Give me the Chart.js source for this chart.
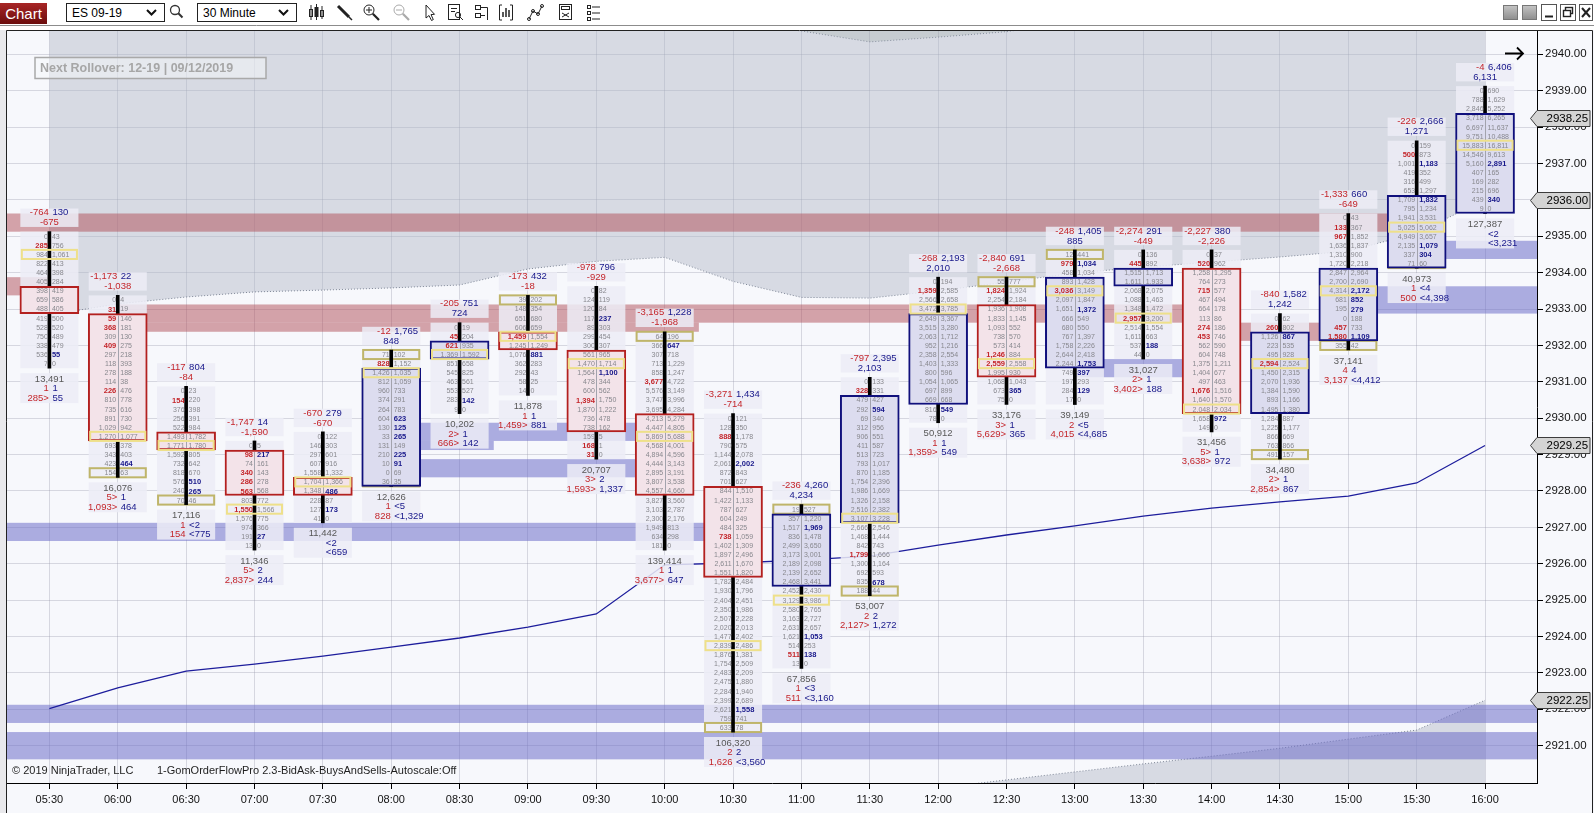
<!DOCTYPE html>
<html lang="en">
<head>
<meta charset="utf-8">
<title>ES 09-19 - 30 Minute</title>
<script src="https://cdn.jsdelivr.net/npm/chart.js@4.4.1/dist/chart.umd.min.js"></script>
<style>
  html, body { margin: 0; padding: 0; background: #fff; overflow: hidden; }
  body { position: relative; width: 1594px; height: 813px; font-family: "Liberation Sans", Arial, sans-serif; }
  #fp { position: absolute; left: 0; top: 0; }
  #toolbar { position: absolute; left: 0; top: 0; width: 1594px; height: 30px; background: #fff; z-index: 2; }
</style>
</head>
<body>
<div id="toolbar">
<svg width="1594" height="30" viewBox="0 0 1594 30" font-family="Liberation Sans, Arial, sans-serif">
  <defs>
    <linearGradient id="gRed" x1="0" y1="0" x2="0" y2="1"><stop offset="0" stop-color="#a82626"/><stop offset="1" stop-color="#6b0d0d"/></linearGradient>
    <linearGradient id="gGrey" x1="0" y1="0" x2="0" y2="1"><stop offset="0" stop-color="#c4c4c4"/><stop offset="1" stop-color="#8e8e8e"/></linearGradient>
  </defs>
  <rect x="0" y="3" width="47" height="21" fill="url(#gRed)"/>
  <text x="23.5" y="19" text-anchor="middle" font-size="15" fill="#fff">Chart</text>
  <rect x="66.5" y="3.5" width="98" height="18" fill="#fff" stroke="#222"/>
  <text x="72" y="17" font-size="12" fill="#000">ES 09-19</text>
  <polyline points="147,10 151.5,14.5 156,10" fill="none" stroke="#111" stroke-width="2"/>
  <circle cx="175" cy="10" r="4.5" fill="none" stroke="#333" stroke-width="1.3"/>
  <line x1="178.3" y1="13.3" x2="182.5" y2="17.5" stroke="#333" stroke-width="2"/>
  <rect x="197.5" y="3.5" width="99" height="18" fill="#fff" stroke="#222"/>
  <text x="203" y="17" font-size="12" fill="#000">30 Minute</text>
  <polyline points="279,10 283.5,14.5 288,10" fill="none" stroke="#111" stroke-width="2"/>
  <g stroke="#222" fill="none" stroke-width="1">
    <line x1="311" y1="5" x2="311" y2="20"/><rect x="309.5" y="9.5" width="3" height="7"/>
    <line x1="316.5" y1="4" x2="316.5" y2="20"/><rect x="315" y="7.5" width="3" height="9" fill="#222"/>
    <line x1="322" y1="6" x2="322" y2="19"/><rect x="320.5" y="10.5" width="3" height="6"/>
    <line x1="338" y1="6" x2="349" y2="17" stroke-width="3"/><line x1="349" y1="17" x2="352" y2="20" stroke-width="1.5"/>
    <circle cx="369" cy="10" r="5"/><line x1="366" y1="10" x2="372" y2="10"/><line x1="369" y1="7" x2="369" y2="13"/>
    <line x1="372.8" y1="13.8" x2="379" y2="20" stroke-width="2.2"/>
    <g stroke="#aaa"><circle cx="399" cy="10" r="5"/><line x1="396" y1="10" x2="402" y2="10"/><line x1="402.8" y1="13.8" x2="409" y2="20" stroke-width="2.2"/></g>
    <polygon points="426,5 426,18 429,15.5 431.5,20.5 433.3,19.6 431,14.6 434.5,14.3" fill="#fff"/>
    <rect x="448.5" y="4.5" width="11" height="15"/><line x1="451" y1="8.5" x2="457" y2="8.5"/><line x1="451" y1="11.5" x2="455" y2="11.5"/>
    <circle cx="458" cy="15" r="2.6"/><line x1="460" y1="17" x2="463" y2="20"/>
    <rect x="475.5" y="5.5" width="5" height="4"/><rect x="475.5" y="13.5" width="5" height="4"/><polyline points="481,7.5 487.5,7.5 487.5,20"/><line x1="481" y1="15.5" x2="485" y2="15.5"/>
    <polyline points="502,5 499.5,5 499.5,20 502,20"/><polyline points="510,5 512.5,5 512.5,20 510,20"/>
    <line x1="503" y1="17" x2="503" y2="12" stroke-width="1.5"/><line x1="506" y1="17" x2="506" y2="8" stroke-width="1.5"/><line x1="509" y1="17" x2="509" y2="10" stroke-width="1.5"/>
    <polyline points="529,19 533,11 538,14 542,6"/><circle cx="529" cy="19" r="1.5"/><circle cx="533" cy="11" r="1.5"/><circle cx="538" cy="14" r="1.5"/><circle cx="542" cy="6" r="1.5"/>
    <rect x="559.5" y="4.5" width="12" height="15"/><rect x="561.5" y="6.5" width="8" height="3"/><line x1="562" y1="13" x2="569" y2="17"/><line x1="569" y1="13" x2="562" y2="17"/>
    <rect x="587.5" y="5.5" width="3" height="3"/><rect x="587.5" y="11.5" width="3" height="3"/><rect x="587.5" y="17.5" width="3" height="3"/>
    <line x1="592" y1="7" x2="600" y2="7"/><line x1="592" y1="13" x2="600" y2="13"/><line x1="592" y1="19" x2="600" y2="19"/>
  </g>
  <rect x="1503.5" y="5.5" width="14" height="14" fill="url(#gGrey)" stroke="#777"/>
  <rect x="1522.5" y="5.5" width="14" height="14" fill="url(#gGrey)" stroke="#777"/>
  <rect x="1541.5" y="4.5" width="15" height="16" fill="#fff" stroke="#555"/>
  <line x1="1545" y1="16.5" x2="1553" y2="16.5" stroke="#222" stroke-width="2"/>
  <rect x="1560.5" y="4.5" width="15" height="16" fill="#fff" stroke="#555"/>
  <rect x="1565.5" y="7.5" width="7" height="6" fill="#fff" stroke="#222" stroke-width="1.4"/>
  <rect x="1563.5" y="10.5" width="7" height="6" fill="#fff" stroke="#222" stroke-width="1.4"/>
  <rect x="1579.5" y="4.5" width="13" height="16" fill="#fff" stroke="#555"/>
  <line x1="1582" y1="8" x2="1590" y2="17" stroke="#222" stroke-width="2"/>
  <line x1="1590" y1="8" x2="1582" y2="17" stroke="#222" stroke-width="2"/>
  <line x1="0" y1="25.5" x2="1594" y2="25.5" stroke="#8c8c8c"/>
</svg>
</div>
<canvas id="fp" width="1594" height="813"></canvas>
<script>
// ES 09-19, 30 minute bars, bid x ask footprint per price level (top row = bar high)

const times = ['05:30','06:00','06:30','07:00','07:30','08:00','08:30','09:00','09:30','10:00','10:30',
               '11:00','11:30','12:00','12:30','13:00','13:30','14:00','14:30','15:00','15:30','16:00']

const opens  = [2933.5, 2932.75, 2929.5, 2929.0, 2928.25, 2928.25, 2931.75, 2932.25, 2931.75, 2930.0, 2928.0,
                2925.5, 2927.25, 2930.5, 2933.0, 2931.5, 2933.75, 2934.0, 2930.25, 2932.25, 2934.25, 2935.75]
const closes = [2933.0, 2929.5, 2929.25, 2928.0, 2928.0, 2931.25, 2932.0, 2932.0, 2929.75, 2928.0, 2925.75,
                2927.25, 2930.5, 2932.75, 2931.25, 2933.75, 2934.0, 2930.25, 2932.25, 2934.0, 2936.0, 2938.25]
const highs  = [2935.0, 2933.25, 2930.75, 2929.25, 2929.5, 2931.75, 2932.5, 2933.25, 2933.5, 2932.25, 2930.0,
                2927.5, 2931.0, 2933.75, 2933.75, 2934.5, 2934.5, 2934.5, 2932.75, 2935.5, 2937.5, 2939.0]
const lows   = [2931.5, 2928.5, 2927.75, 2926.5, 2927.25, 2928.25, 2930.25, 2930.75, 2929.0, 2926.5, 2921.5,
                2923.25, 2925.25, 2930.0, 2930.5, 2930.5, 2931.75, 2929.75, 2929.0, 2932.0, 2934.25, 2935.75]

// [bid, ask] for every tick, from high down to low
const footprint = [
  [[0,43],[285,756],[984,1061],[822,413],[464,398],[405,284],[398,419],[659,586],[488,405],[419,500],[528,520],[750,489],[338,479],[536,55],[7,0]],
  [[0,4],[31,19],[59,146],[368,181],[309,130],[409,275],[297,218],[118,393],[278,188],[114,38],[226,476],[810,778],[735,616],[891,730],[1029,942],[1270,1077],[693,378],[343,403],[423,464],[154,63]],
  [[0,23],[154,220],[376,398],[256,391],[522,984],[1493,1782],[1771,1780],[1592,805],[732,642],[818,670],[576,510],[240,265],[70,46]],
  [[0,5],[98,217],[74,161],[340,143],[286,278],[563,568],[803,772],[1550,1566],[1576,775],[974,366],[191,27],[13,0]],
  [[0,122],[146,303],[297,601],[607,916],[1558,1332],[1704,1366],[1348,486],[228,87],[127,173],[41,0]],
  [[71,102],[828,1152],[1426,1035],[812,1059],[960,733],[374,291],[264,783],[604,623],[130,125],[33,265],[131,149],[210,225],[10,91],[0,69],[36,35]],
  [[0,19],[45,204],[621,935],[1369,1592],[851,658],[545,825],[463,561],[553,527],[283,142],[9,0]],
  [[39,202],[148,354],[651,680],[606,659],[1459,1554],[1245,1249],[1076,881],[362,283],[292,43],[58,25],[14,0]],
  [[0,82],[124,119],[120,84],[117,237],[89,303],[299,454],[300,307],[561,965],[1470,1714],[1564,1100],[478,344],[600,562],[1394,1750],[1870,1222],[736,478],[738,162],[159,5],[168,1],[31,0]],
  [[64,196],[366,647],[307,718],[713,1229],[858,1247],[3677,4722],[5576,3149],[3747,3996],[3695,4284],[4213,5279],[4447,4805],[5869,5688],[4568,4001],[4894,4596],[4444,3143],[2895,3191],[3807,3538],[4557,4660],[3827,3560],[3103,2787],[2300,2176],[1949,813],[634,298],[181,0]],
  [[0,121],[128,350],[888,1178],[790,575],[1144,2078],[2061,2002],[872,843],[701,627],[844,1510],[1422,1133],[787,627],[604,249],[484,325],[738,1059],[1402,1309],[1897,2496],[2611,1670],[1551,1820],[1782,2484],[1930,1796],[2404,2451],[2350,1986],[2507,2228],[2020,2013],[1477,2402],[2839,2486],[1876,1381],[1754,2509],[2483,2209],[2475,1880],[2284,1940],[2399,2689],[2621,1558],[759,741],[633,78]],
  [[19,527],[357,1220],[1517,1969],[836,1478],[2499,3650],[3173,3001],[2189,2098],[2139,2652],[2468,3441],[2452,2430],[3129,3986],[2580,2765],[3163,2727],[2631,2657],[1621,1053],[514,253],[511,138],[13,0]],
  [[0,133],[328,331],[479,427],[292,594],[69,340],[312,956],[906,551],[411,587],[513,723],[793,1017],[870,1185],[1754,2396],[1986,1669],[1326,2158],[2516,2382],[3107,3228],[2666,2546],[1468,1444],[842,743],[1799,1666],[1300,1164],[692,593],[835,678],[188,44]],
  [[0,194],[1359,2585],[2566,2658],[3472,3785],[2649,3367],[3515,3280],[2063,1712],[952,1216],[2358,2554],[1403,1333],[800,596],[1054,1065],[697,899],[669,668],[816,549],[78,0]],
  [[55,777],[1824,1924],[2254,2184],[1936,1908],[1833,1145],[1093,552],[738,570],[573,414],[1246,884],[2559,2558],[1995,930],[1068,1043],[673,365],[75,0]],
  [[12,441],[979,1034],[458,1034],[893,1428],[3036,3149],[2097,1847],[1651,1372],[666,549],[680,550],[767,1397],[1758,2226],[2644,2418],[2244,1753],[749,397],[197,293],[284,129],[17,0]],
  [[0,136],[445,892],[1515,1713],[1611,1933],[2068,2075],[1088,1463],[1348,1472],[2957,3200],[2514,1554],[1611,663],[537,188],[44,0]],
  [[0,37],[520,962],[1258,1295],[764,273],[715,577],[467,494],[664,178],[113,86],[274,186],[453,746],[562,590],[604,748],[1375,1211],[1404,677],[497,463],[1676,1516],[1640,1570],[2048,2034],[1658,972],[149,0]],
  [[0,62],[260,802],[1126,867],[223,535],[495,928],[2594,2524],[1450,2315],[2070,1936],[1384,1590],[893,1166],[1495,1380],[1284,887],[1225,1177],[866,669],[763,866],[491,157]],
  [[0,43],[133,367],[967,1852],[1636,1837],[1310,900],[1720,2218],[2847,2964],[2700,2690],[4314,2172],[681,852],[195,279],[0,188],[457,733],[1580,1109],[355,42]],
  [[0,159],[500,873],[1001,1183],[419,352],[316,499],[653,1297],[1709,1832],[795,1234],[1941,3531],[5025,5062],[4949,3657],[2135,1079],[337,304],[71,60]],
  [[0,690],[788,1629],[2846,5252],[3718,6265],[6697,11637],[9751,10488],[15883,16811],[14546,9613],[5160,2891],[407,165],[169,282],[215,696],[439,340],[9,0]]
]

const deltaMin = [-764,-1173,-117,-1747,-670,-12,-205,-173,-978,-3165,-3271,-236,-797,-268,-2840,-248,-2274,-2227,-840,-1333,-226,-4]
const deltaMax = [130,22,804,14,279,1765,751,432,796,1228,1434,4260,2395,2193,691,1405,291,380,1582,660,2666,6406]
const deltaNet = [-675,-1038,-84,-1590,-670,848,724,-18,-929,-1968,-714,4234,2103,2010,-2668,885,-449,-2226,1242,-649,1271,6131]
const volumes  = [13491,16076,17116,11346,11442,12626,10202,11878,20707,139414,106320,67856,53007,50912,33176,39149,31027,31456,34480,37141,40973,127387]

// session VWAP and its deviation bands
const vwap           = [2922.02,2922.59,2923.05,2923.24,2923.46,2923.71,2923.96,2924.26,2924.62,2925.97,2926.02,
                        2926.10,2926.21,2926.51,2926.79,2927.04,2927.31,2927.53,2927.70,2927.86,2928.22,2929.25]
const bandUpper      = [2932.84,2933.14,2933.33,2933.47,2933.52,2933.58,2933.66,2934.10,2934.31,2934.42,2933.76,
                        2933.32,2933.30,2933.50,2933.74,2933.99,2934.15,2934.29,2934.43,2934.59,2935.09,2936.00]
const bandUpperOuter = [2941.6,2941.5,2941.5,2941.4,2941.4,2941.3,2941.3,2941.2,2941.1,2941.0,2940.85,
                        2940.64,2940.34,2940.47,2940.62,2940.9,2941.1,2941.2,2941.3,2941.4,2941.6,2942.0]
const bandLower      = [2917.6,2917.8,2918.0,2918.2,2918.4,2918.6,2918.8,2919.0,2919.2,2919.3,2919.45,
                        2919.6,2919.7,2919.84,2920.06,2920.28,2920.5,2920.71,2920.93,2921.18,2921.43,2922.25]

// supply / demand zones: bar where they start and end, price range
const zoneFrom = [-1, -1, 1, 1, 17, 5, 5, 5, -1, -1, -1, 15, 19, 20]
const zoneTo   = [20, 0, 17, 9.5, 19, 9, 9, 6.5, 10, 22, 22, 17, 22, 22]
const zoneHigh = [2935.625,2933.875,2933.125,2932.625,2932.625,2929.875,2928.875,2929.375,2927.125,2922.125,2921.375,2931.625,2933.625,2934.875]
const zoneLow  = [2935.125,2933.375,2932.625,2932.375,2932.125,2929.375,2928.375,2929.125,2926.625,2921.625,2920.625,2931.125,2932.875,2934.375]
const zoneSide = ['sell','sell','sell','sell','sell','buy','buy','buy','buy','buy','buy','buy','buy','buy']

const priceTicks = [2921,2922,2923,2924,2925,2926,2927,2928,2929,2930,2931,2932,2933,2934,2935,2936,2937,2938,2939,2940]

const TICK = 0.25
const FONT = '"Liberation Sans", Arial, sans-serif'
const RED = '#c4262b', BLUE = '#17178a', CELLGREY = '#88888e', VOLGREY = '#585858'
const COLBG = 'rgba(236,236,246,0.86)'

const fmt = v => v.toLocaleString('en-US')
const signColor = v => v < 0 ? RED : BLUE

// imbalances (diagonal 2:1), POC and unfinished auctions per bar
const stats = footprint.map(rows => {
  const n = rows.length
  let poc = 0, pocVol = -1, rc = 0, bc = 0, rs = 0, bs = 0
  const bidHot = [], askHot = []
  rows.forEach(([b, a], j) => {
    if (b + a > pocVol) { pocVol = b + a; poc = j }
    const hb = j > 0 && b > 0 && b >= 2 * rows[j - 1][1]
    const ha = j < n - 1 && a > 0 && a >= 2 * rows[j + 1][0]
    bidHot.push(hb); askHot.push(ha)
    if (hb) { rc++; rs += b }
    if (ha) { bc++; bs += a }
  })
  return { poc, bidHot, askHot, rc, bc, rs, bs, openTop: rows[0][0] > 0, openBottom: rows[n - 1][1] > 0 }
})

function cmpParts(r, b, f) {
  if (r === 0 && b === 0) return ['', '']
  if (r > b) return [f(r) + '>', b ? f(b) : '']
  if (r < b) return [r ? f(r) : '', '<' + f(b)]
  return [f(r), f(b)]
}

const colWidth = x => (x.getPixelForValue(1) - x.getPixelForValue(0)) * 0.85
const rowHeight = y => y.getPixelForValue(2930) - y.getPixelForValue(2930 + TICK)

function drawZones(chart) {
  const { ctx, chartArea: a, scales: { x, y } } = chart
  ctx.save()
  zoneHigh.forEach((hi, k) => {
    const x0 = Math.max(a.left, x.getPixelForValue(zoneFrom[k]))
    const x1 = Math.min(a.right, x.getPixelForValue(zoneTo[k]))
    const y0 = y.getPixelForValue(hi), y1 = y.getPixelForValue(zoneLow[k])
    ctx.fillStyle = zoneSide[k] === 'sell' ? 'rgba(175,75,85,0.5)' : 'rgba(110,110,200,0.55)'
    ctx.fillRect(x0, y0, x1 - x0, y1 - y0)
  })
  ctx.restore()
}

function drawColumns(chart) {
  const { ctx, scales: { x, y } } = chart
  const w = colWidth(x), rh = rowHeight(y)
  ctx.save()
  highs.forEach((hi, i) => {
    const cx = x.getPixelForValue(i)
    const yHi = y.getPixelForValue(hi), yLo = y.getPixelForValue(lows[i])
    ctx.fillStyle = COLBG
    ctx.fillRect(cx - w / 2, yHi - rh / 2, w, yLo - yHi + rh)
    ctx.fillRect(cx - w / 2, yHi - 27.7, w, 18.4)
    ctx.fillRect(cx - w / 2, yLo + 9.5, w, 30)
    ctx.strokeStyle = '#bfb56a'
    ctx.lineWidth = 2
    if (stats[i].openTop) ctx.strokeRect(cx - w / 2 + 1, yHi - rh / 2, w - 2, rh)
    if (stats[i].openBottom) ctx.strokeRect(cx - w / 2 + 1, yLo - rh / 2, w - 2, rh)
  })
  ctx.restore()
}

function pair(ctx, left, right, cx, yy, lc, rc) {
  ctx.textAlign = 'right'; ctx.fillStyle = lc; ctx.fillText(left, cx - 0.5, yy)
  ctx.textAlign = 'left'; ctx.fillStyle = rc; ctx.fillText(right, cx + 3, yy)
}

function drawCells(chart) {
  const { ctx, scales: { x, y } } = chart
  const w = colWidth(x), rh = rowHeight(y)
  ctx.save()
  ctx.textBaseline = 'middle'
  footprint.forEach((rows, i) => {
    const cx = x.getPixelForValue(i)
    const st = stats[i]
    const bTop = y.getPixelForValue(Math.max(opens[i], closes[i])) - rh / 2
    const bBot = y.getPixelForValue(Math.min(opens[i], closes[i])) + rh / 2
    ctx.strokeStyle = '#a3a3ad'; ctx.lineWidth = 1
    ctx.beginPath(); ctx.moveTo(Math.round(cx) + 0.5, bTop + 2); ctx.lineTo(Math.round(cx) + 0.5, bBot - 2); ctx.stroke()

    const yp = y.getPixelForValue(highs[i] - st.poc * TICK)
    ctx.strokeStyle = '#eee08a'; ctx.lineWidth = 2
    ctx.strokeRect(cx - w / 2 + 1.5, yp - rh / 2, w - 3, rh)

    rows.forEach(([b, a], j) => {
      const yy = y.getPixelForValue(highs[i] - j * TICK) + 0.5
      ctx.font = st.bidHot[j] ? `bold 7.5px ${FONT}` : `7px ${FONT}`
      ctx.fillStyle = st.bidHot[j] ? RED : CELLGREY
      ctx.textAlign = 'right'
      ctx.fillText(fmt(b), cx - 1.5, yy)
      ctx.font = st.askHot[j] ? `bold 7.5px ${FONT}` : `7px ${FONT}`
      ctx.fillStyle = st.askHot[j] ? BLUE : CELLGREY
      ctx.textAlign = 'left'
      ctx.fillText(fmt(a), cx + 2.5, yy)
    })

    const yHi = y.getPixelForValue(highs[i]), yLo = y.getPixelForValue(lows[i])
    ctx.font = `9.5px ${FONT}`
    pair(ctx, fmt(deltaMin[i]), fmt(deltaMax[i]), cx, yHi - 23.5, signColor(deltaMin[i]), signColor(deltaMax[i]))
    ctx.textAlign = 'center'; ctx.fillStyle = signColor(deltaNet[i])
    ctx.fillText(fmt(deltaNet[i]), cx, yHi - 13.5)
    ctx.fillStyle = VOLGREY
    ctx.fillText(fmt(volumes[i]), cx, yLo + 15.5)
    const [c1, c2] = cmpParts(st.rc, st.bc, String)
    pair(ctx, c1, c2, cx, yLo + 25, RED, BLUE)
    const [s1, s2] = cmpParts(st.rs, st.bs, fmt)
    pair(ctx, s1, s2, cx, yLo + 34.5, RED, BLUE)
  })
  ctx.restore()
}

function drawNotes(chart) {
  const { ctx, chartArea: a } = chart
  ctx.save()
  ctx.fillStyle = 'rgba(246,247,250,0.5)'
  ctx.strokeStyle = '#a9a9a9'; ctx.lineWidth = 1.5
  ctx.fillRect(a.left + 28, a.top + 26.5, 231, 21)
  ctx.strokeRect(a.left + 28, a.top + 26.5, 231, 21)
  ctx.font = `bold 12.5px ${FONT}`
  ctx.fillStyle = '#a6a6a6'; ctx.textBaseline = 'middle'; ctx.textAlign = 'left'
  ctx.fillText('Next Rollover: 12-19 | 09/12/2019', a.left + 33, a.top + 37.5)
  ctx.font = `11px ${FONT}`
  ctx.fillStyle = '#1e1e1e'
  ctx.fillText('\u00a9 2019 NinjaTrader, LLC', a.left + 5, a.bottom - 12.3)
  ctx.fillText('1-GomOrderFlowPro 2.3-BidAsk-BuysAndSells-Autoscale:Off', a.left + 150, a.bottom - 12.3)
  // scroll-to-end arrow
  const ay = a.top + 22.5
  ctx.strokeStyle = '#000'; ctx.lineWidth = 1.8
  ctx.beginPath()
  ctx.moveTo(a.right - 32, ay); ctx.lineTo(a.right - 14, ay)
  ctx.moveTo(a.right - 20, ay - 6); ctx.lineTo(a.right - 14, ay); ctx.lineTo(a.right - 20, ay + 6)
  ctx.stroke()
  ctx.restore()
}

function drawMarkers(chart) {
  const { ctx, chartArea: a, scales: { y } } = chart
  const vals = [closes[closes.length - 1], bandUpper[bandUpper.length - 1], vwap[vwap.length - 1], bandLower[bandLower.length - 1]]
  ctx.save()
  ctx.font = `11.5px ${FONT}`; ctx.textBaseline = 'middle'; ctx.textAlign = 'left'
  vals.forEach(v => {
    const yy = Math.round(y.getPixelForValue(v)) + 0.5
    ctx.beginPath()
    ctx.moveTo(a.right - 6.5, yy)
    ctx.lineTo(a.right, yy - 8)
    ctx.lineTo(a.right + 53, yy - 8)
    ctx.lineTo(a.right + 53, yy + 8)
    ctx.lineTo(a.right, yy + 8)
    ctx.closePath()
    ctx.fillStyle = '#d4d4d4'; ctx.fill()
    ctx.strokeStyle = '#3c3c3c'; ctx.lineWidth = 1; ctx.stroke()
    ctx.fillStyle = '#000'; ctx.fillText(v.toFixed(2), a.right + 9.5, yy + 0.5)
  })
  // panel frame
  ctx.strokeStyle = '#222'; ctx.lineWidth = 1
  ctx.beginPath()
  ctx.moveTo(6.5, 813); ctx.lineTo(6.5, 30.5); ctx.lineTo(1592.5, 30.5); ctx.lineTo(1592.5, 813)
  ctx.stroke()
  ctx.restore()
}

const VWAP_DS = 3, WICK_DS = 4

const footprintPlugin = {
  id: 'footprint',
  beforeDraw(chart) {
    const { ctx, width, height } = chart
    ctx.save()
    ctx.fillStyle = '#f7f8fc'
    ctx.fillRect(0, 0, width, height)
    ctx.fillStyle = '#e9e9ec'
    ctx.fillRect(0, 0, 6, height)
    ctx.restore()
  },
  beforeDatasetDraw(chart, args) {
    if (args.index === VWAP_DS) drawZones(chart)
    if (args.index === WICK_DS) drawColumns(chart)
  },
  afterDatasetsDraw(chart) {
    drawCells(chart)
    drawNotes(chart)
  },
  afterDraw(chart) {
    drawMarkers(chart)
  }
}

const pts = arr => arr.map((v, i) => ({ x: i, y: v }))
const isUp = closes.map((c, i) => c >= opens[i])
const band = { borderColor: '#7f8797', borderWidth: 1, borderDash: [1, 2], pointRadius: 0, tension: 0 }

Chart.defaults.font.family = FONT
Chart.defaults.color = '#111'

new Chart(document.getElementById('fp'), {
  type: 'line',
  data: {
    datasets: [
      { ...band, label: 'VWAP +3', data: pts(bandUpperOuter), fill: 'end', backgroundColor: 'rgba(150,160,166,0.5)', order: 9 },
      { ...band, label: 'VWAP +2', data: pts(bandUpper), fill: '-1', backgroundColor: 'rgba(175,182,198,0.45)', order: 8 },
      { ...band, label: 'VWAP -2', data: pts(bandLower), fill: 'start', backgroundColor: 'rgba(175,182,198,0.45)', order: 8 },
      { label: 'VWAP', data: pts(vwap), borderColor: '#1d1d9c', borderWidth: 1.3, pointRadius: 0, fill: false, tension: 0, order: 6 },
      {
        type: 'bar', label: 'range',
        data: highs.map((h, i) => ({ x: i, y: [lows[i] - TICK / 2, h + TICK / 2] })),
        backgroundColor: '#000', borderWidth: 0, barThickness: 3, grouped: false, order: 2
      },
      {
        type: 'bar', label: 'open-close',
        data: opens.map((o, i) => ({ x: i, y: [Math.min(o, closes[i]) - TICK / 2, Math.max(o, closes[i]) + TICK / 2] })),
        backgroundColor: isUp.map(u => u ? '#dcdcef' : '#f3e3e9'),
        borderColor: isUp.map(u => u ? '#10107c' : '#b3201f'),
        borderWidth: 2, borderSkipped: false, barThickness: 59, grouped: false, order: 1
      }
    ]
  },
  options: {
    responsive: false,
    animation: false,
    devicePixelRatio: 1,
    events: [],
    layout: { padding: { left: 7, top: 31, right: 0, bottom: 0 } },
    plugins: { legend: { display: false }, tooltip: { enabled: false } },
    scales: {
      x: {
        type: 'linear', min: -0.62, max: 21.76, offset: false,
        grid: { color: 'rgba(150,150,168,0.33)', tickColor: '#000', tickLength: 6, offset: false },
        border: { color: '#000' },
        ticks: { font: { size: 11 }, padding: 4, autoSkip: false, maxRotation: 0, callback: v => times[v] ?? '' },
        afterBuildTicks: s => { s.ticks = times.map((_, i) => ({ value: i })) },
        afterFit: s => { s.height = 30 }
      },
      y: {
        type: 'linear', position: 'right', min: 2919.975, max: 2940.64,
        grid: { color: 'rgba(150,150,168,0.33)', tickColor: '#000', tickLength: 6 },
        border: { color: '#000' },
        ticks: { font: { size: 11.5 }, padding: 2, callback: v => v.toFixed(2) },
        afterBuildTicks: s => { s.ticks = priceTicks.map(v => ({ value: v })) },
        afterFit: s => { s.width = 57 }
      }
    }
  },
  plugins: [footprintPlugin]
})
</script>
</body>
</html>
